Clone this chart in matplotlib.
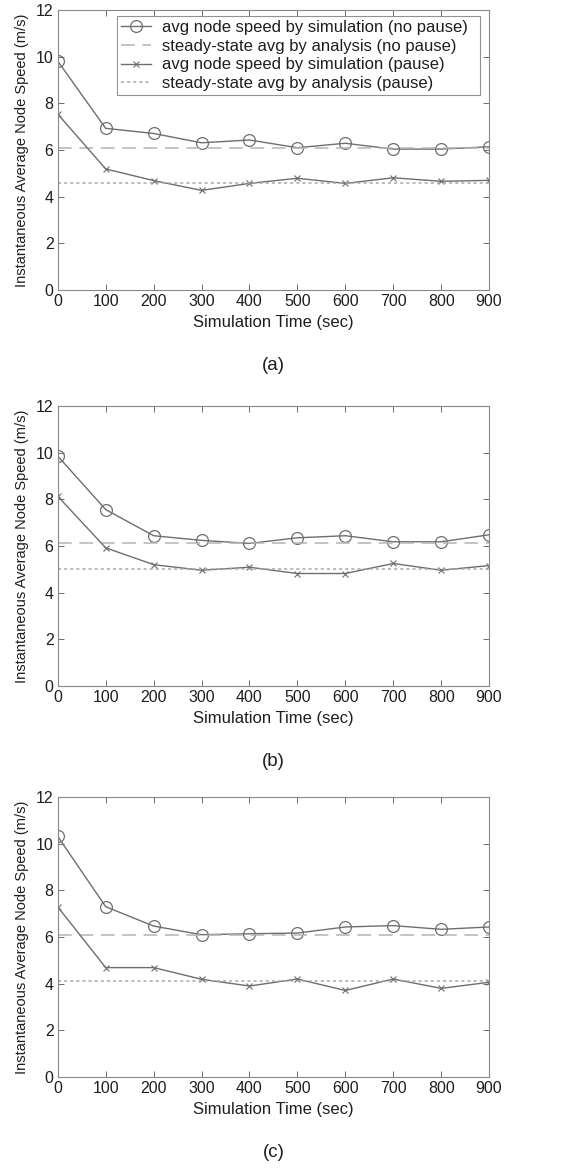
import numpy as np
import matplotlib
matplotlib.use('Agg')
import matplotlib.pyplot as plt

plt.rcParams['font.family'] = ['Liberation Sans', 'DejaVu Sans']

time_s = [0, 100, 200, 300, 400, 500, 600, 700, 800, 900]

# (a)
sim_nopause_a = [9.81, 6.93, 6.71, 6.31, 6.43, 6.10, 6.29, 6.04, 6.04, 6.14]
sim_pause_a = [7.54, 5.19, 4.69, 4.27, 4.57, 4.79, 4.57, 4.81, 4.66, 4.70]
ss_nopause_a = 6.10
ss_pause_a = 4.60

# (b)
sim_nopause_b = [9.85, 7.56, 6.44, 6.24, 6.11, 6.35, 6.44, 6.18, 6.18, 6.48]
sim_pause_b = [8.13, 5.92, 5.20, 4.96, 5.09, 4.82, 4.82, 5.25, 4.96, 5.16]
ss_nopause_b = 6.12
ss_pause_b = 5.00

# (c)
sim_nopause_c = [10.31, 7.30, 6.47, 6.10, 6.14, 6.17, 6.43, 6.49, 6.33, 6.43]
sim_pause_c = [7.29, 4.69, 4.69, 4.19, 3.90, 4.20, 3.71, 4.20, 3.80, 4.06]
ss_nopause_c = 6.10
ss_pause_c = 4.11

panels = [
    ('(a)', sim_nopause_a, sim_pause_a, ss_nopause_a, ss_pause_a),
    ('(b)', sim_nopause_b, sim_pause_b, ss_nopause_b, ss_pause_b),
    ('(c)', sim_nopause_c, sim_pause_c, ss_nopause_c, ss_pause_c),
]

legend_labels = [
    'avg node speed by simulation (no pause)',
    'steady-state avg by analysis (no pause)',
    'avg node speed by simulation (pause)',
    'steady-state avg by analysis (pause)',
]

line_col = '#6e6e6e'
dash_col = '#b4b4b4'
dot_col = '#a8a8a8'
text_col = '#1e1e1e'

fig = plt.figure(figsize=(5.72, 11.68), dpi=100)
bottoms = [0.7517, 0.4127, 0.0779]

for (tag, nopause, pause, ss_np, ss_p), b in zip(panels, bottoms):
    ax = fig.add_axes([0.101, b, 0.754, 0.2397])
    t = np.array(time_s)
    h1, = ax.plot(t, nopause, '-', color=line_col, lw=1.0, marker='o',
                  ms=8.5, mfc='none', mec=line_col, mew=0.9)
    h2, = ax.plot([t[0], t[-1]], [ss_np, ss_np], color=dash_col, lw=1.1,
                  dashes=(9, 5))
    h3, = ax.plot(t, pause, '-', color=line_col, lw=1.0, marker='x',
                  ms=4, mec=line_col, mew=0.8)
    h4, = ax.plot([t[0], t[-1]], [ss_p, ss_p], color=dot_col, lw=1.1,
                  dashes=(2, 2))

    ax.set_xlim(0, 900)
    ax.set_ylim(0, 12)
    ax.set_xticks(time_s)
    ax.set_yticks([0, 2, 4, 6, 8, 10, 12])
    ax.tick_params(direction='in', top=True, right=True, length=4,
                   width=0.6, color='#555555', labelsize=11.5, pad=3,
                   labelcolor=text_col)
    for sp in ax.spines.values():
        sp.set_color('#888888')
        sp.set_linewidth(0.8)
    ax.set_xlabel('Simulation Time (sec)', fontsize=12, labelpad=4,
                  color=text_col)
    ax.set_ylabel('Instantaneous Average Node Speed (m/s)', fontsize=10.5,
                  labelpad=5, color=text_col)
    ax.text(0.5, -0.27, tag, transform=ax.transAxes, ha='center',
            va='center', fontsize=13.5, color=text_col)

    if tag == '(a)':
        leg = ax.legend([h1, h2, h3, h4], legend_labels,
                        loc='upper left',
                        bbox_to_anchor=(0.137, 0.979, 0.842, 0.0),
                        mode='expand', fontsize=12, handlelength=1.8,
                        handletextpad=0.65, borderpad=0.25,
                        labelspacing=0.22, fancybox=False,
                        frameon=True, borderaxespad=0)
        leg.get_frame().set_edgecolor('#777777')
        leg.get_frame().set_linewidth(0.8)
        for txt in leg.get_texts():
            txt.set_color(text_col)

fig.savefig('out.png', dpi=100)
